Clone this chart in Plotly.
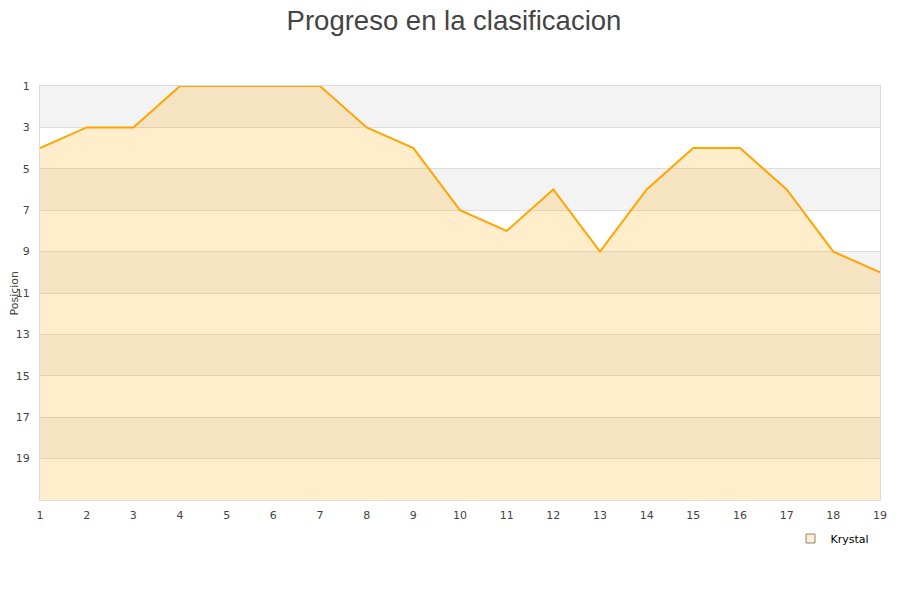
import plotly.graph_objects as go

jornadas = list(range(1, 20))
posiciones = [4, 3, 3, 1, 1, 1, 1, 3, 4, 7, 8, 6, 9, 6, 4, 4, 6, 9, 10]
serie = "Krystal"
y_ticks = [1, 3, 5, 7, 9, 11, 13, 15, 17, 19]
y_min, y_max = 1, 21

fig = go.Figure()

# baseline for fill
fig.add_trace(go.Scatter(x=jornadas, y=[y_max] * len(jornadas), mode="lines",
                         line=dict(width=0), showlegend=False, hoverinfo="skip"))
fig.add_trace(go.Scatter(x=jornadas, y=posiciones, mode="lines", name=serie,
                         line=dict(color="#ffa500", width=2),
                         fill="tonexty", fillcolor="rgba(255,165,0,0.2)",
                         showlegend=False))
# legend proxy
fig.add_trace(go.Scatter(x=[None], y=[None], mode="markers", name=serie,
                         marker=dict(symbol="square", size=9, color="#ffedcc",
                                     line=dict(color="#888888", width=1))))

shapes = []
for i, start in enumerate(range(y_min, y_max, 2)):
    if i % 2 == 0:
        shapes.append(dict(type="rect", xref="paper", yref="y", x0=0, x1=1,
                           y0=start, y1=start + 2, fillcolor="#f3f3f3",
                           line=dict(width=0), layer="below"))

fig.update_layout(
    width=892, height=592,
    paper_bgcolor="white", plot_bgcolor="white",
    margin=dict(l=32, r=20, t=78, b=100),
    title=dict(text="Progreso en la clasificacion", x=0.5, xanchor="center",
               y=0.979, yanchor="middle",
               font=dict(family="Liberation Sans, Arial", size=27.5, color="#444444")),
    shapes=shapes,
    annotations=[dict(text="Posicion", xref="paper", yref="paper",
                      x=-0.0315, y=0.5, xanchor="center", yanchor="middle",
                      textangle=-90, showarrow=False,
                      font=dict(family="DejaVu Sans", size=11, color="#444444"))],
    showlegend=True,
    legend=dict(x=0.8935, y=-0.058, xanchor="left", yanchor="top",
                font=dict(family="DejaVu Sans", size=11, color="#000000"),
                bgcolor="rgba(0,0,0,0)"),
    font=dict(family="DejaVu Sans", size=11, color="#444444"),
)
fig.update_xaxes(range=[1, 19], tickvals=jornadas, showgrid=False, zeroline=False,
                 showline=True, linecolor="#dddddd", linewidth=1, mirror=True,
                 ticks="outside", ticklen=5, tickcolor="rgba(0,0,0,0)",
                 automargin=False, tickfont=dict(size=11, color="#444444"))
fig.update_yaxes(range=[y_max, y_min], tickvals=y_ticks, showgrid=True,
                 gridcolor="#dddddd", gridwidth=1, zeroline=False,
                 showline=True, linecolor="#dddddd", linewidth=1, mirror=True,
                 ticks="outside", ticklen=7, tickcolor="rgba(0,0,0,0)",
                 automargin=False, tickfont=dict(size=11, color="#444444"))

fig.write_html("out.html")
